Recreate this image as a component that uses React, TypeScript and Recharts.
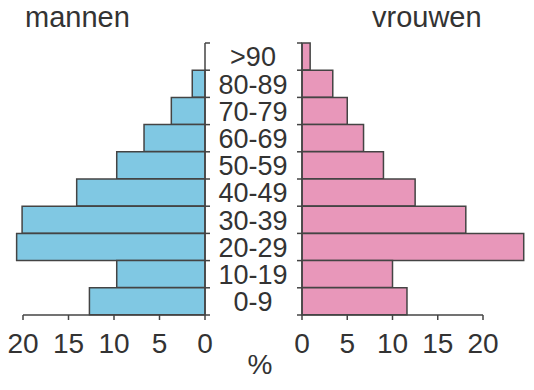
import React from 'react';
import { BarChart, Bar, XAxis, YAxis } from 'recharts';

const ageGroups = ['>90', '80-89', '70-79', '60-69', '50-59', '40-49', '30-39', '20-29', '10-19', '0-9'];
const menValues = [0, 1.4, 3.7, 6.7, 9.7, 14.1, 20.1, 20.7, 9.7, 12.7];
const womenValues = [0.9, 3.4, 5.0, 6.8, 9.0, 12.5, 18.1, 24.5, 10.0, 11.6];
const percentTicks = [0, 5, 10, 15, 20];

const menData = ageGroups.map((age, i) => ({ age, value: menValues[i] }));
const womenData = ageGroups.map((age, i) => ({ age, value: womenValues[i] }));

const INK = '#444444';
const TEXT = '#333333';
const BLUE = '#80C8E3';
const PINK = '#E897BA';
const FONT = '"Liberation Sans", Arial, Helvetica, sans-serif';

const CHART_H = 390;
const M_TOP = 43;
const M_BOTTOM = 35;
const X_AXIS_H = 40;
const PLOT_H = CHART_H - M_TOP - M_BOTTOM - X_AXIS_H;
const BAND = PLOT_H / ageGroups.length;
const TICK_LEN = 5;
const LABEL_OFFSET = 48;

function BoundaryTicks({ x, y, index, dir }: { x: number; y: number; index: number; dir: number }) {
  const top = y - BAND / 2;
  const bottom = y + BAND / 2;
  const last = index === ageGroups.length - 1;
  return (
    <g>
      <line x1={x} y1={top} x2={x + dir * TICK_LEN} y2={top} stroke={INK} strokeWidth={1.5} />
      {last && <line x1={x} y1={bottom} x2={x + dir * TICK_LEN} y2={bottom} stroke={INK} strokeWidth={1.5} />}
    </g>
  );
}

function MenAgeTick(props: any) {
  const { x, y, index, payload } = props;
  return (
    <g>
      <BoundaryTicks x={x} y={y} index={index} dir={1} />
      <text x={x + LABEL_OFFSET} y={y} dy="0.36em" textAnchor="middle" fontSize={27} fill={TEXT}>
        {payload.value}
      </text>
    </g>
  );
}

function WomenAgeTick(props: any) {
  const { x, y, index } = props;
  return <BoundaryTicks x={x} y={y} index={index} dir={-1} />;
}

export default function App() {
  return (
    <div style={{ position: 'absolute', left: 0, top: 0, width: 534, height: 390, fontFamily: FONT, background: '#fff' }}>
      <style>{`.pyr g[clip-path]{clip-path:none !important;}`}</style>
      <div className="pyr" style={{ position: 'absolute', left: 0, top: 0 }}>
        <BarChart
          width={302}
          height={CHART_H}
          data={menData}
          layout="vertical"
          barCategoryGap={0}
          margin={{ top: M_TOP, right: 0, bottom: M_BOTTOM, left: 23 }}
        >
          <XAxis
            type="number"
            reversed
            domain={[0, 20]}
            allowDataOverflow
            ticks={percentTicks}
            height={X_AXIS_H}
            axisLine={{ stroke: INK, strokeWidth: 1.5 }}
            tickLine={{ stroke: INK, strokeWidth: 1.5 }}
            tickSize={TICK_LEN}
            tickMargin={13}
            tick={{ fontSize: 28, fill: TEXT }}
            interval={0}
          />
          <YAxis
            type="category"
            dataKey="age"
            orientation="right"
            width={97}
            axisLine={{ stroke: INK, strokeWidth: 1.5 }}
            tickLine={false}
            tickSize={0}
            tickMargin={0}
            tick={<MenAgeTick />}
            interval={0}
          />
          <Bar dataKey="value" fill={BLUE} stroke={INK} strokeWidth={1.5} isAnimationActive={false} />
        </BarChart>
      </div>
      <div className="pyr" style={{ position: 'absolute', left: 290, top: 0 }}>
        <BarChart
          width={244}
          height={CHART_H}
          data={womenData}
          layout="vertical"
          barCategoryGap={0}
          margin={{ top: M_TOP, right: 51, bottom: M_BOTTOM, left: 0 }}
        >
          <XAxis
            type="number"
            domain={[0, 20]}
            allowDataOverflow
            ticks={percentTicks}
            height={X_AXIS_H}
            axisLine={{ stroke: INK, strokeWidth: 1.5 }}
            tickLine={{ stroke: INK, strokeWidth: 1.5 }}
            tickSize={TICK_LEN}
            tickMargin={13}
            tick={{ fontSize: 28, fill: TEXT }}
            interval={0}
          />
          <YAxis
            type="category"
            dataKey="age"
            orientation="left"
            width={12}
            axisLine={{ stroke: INK, strokeWidth: 1.5 }}
            tickLine={false}
            tickSize={0}
            tickMargin={0}
            tick={<WomenAgeTick />}
            interval={0}
          />
          <Bar dataKey="value" fill={PINK} stroke={INK} strokeWidth={1.5} isAnimationActive={false} />
        </BarChart>
      </div>
      <svg width={534} height={390} style={{ position: 'absolute', left: 0, top: 0, pointerEvents: 'none' }}>
        <text x={25} y={26.5} fontSize={29} fill={TEXT} fontFamily={FONT}>mannen</text>
        <text x={372} y={26.5} fontSize={29} fill={TEXT} fontFamily={FONT}>vrouwen</text>
        <text x={260} y={374} fontSize={28} fill={TEXT} fontFamily={FONT} textAnchor="middle">%</text>
      </svg>
    </div>
  );
}
